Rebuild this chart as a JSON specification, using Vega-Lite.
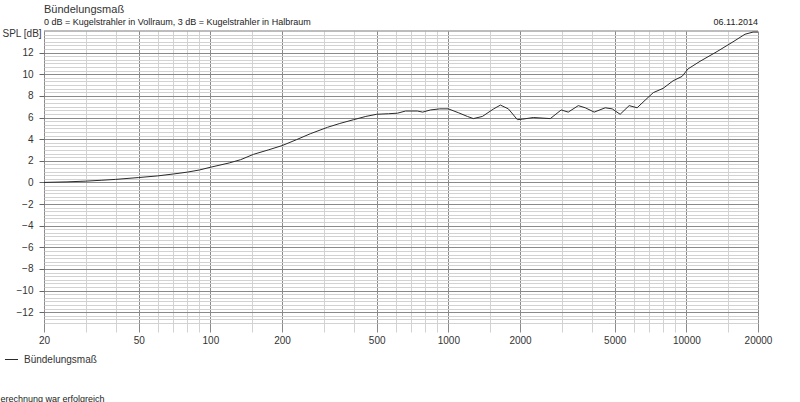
{
  "$schema": "https://vega.github.io/schema/vega-lite/v6.json",
  "autosize": {"type": "none"},
  "width": 714,
  "height": 292,
  "padding": {"left": 44, "top": 31, "right": 42, "bottom": 79},
  "background": "white",
  "config": {"font": "Liberation Sans", "view": {"stroke": null}},
  "title": {
    "text": "Bündelungsmaß",
    "subtitle": "0 dB = Kugelstrahler in Vollraum, 3 dB = Kugelstrahler in Halbraum",
    "anchor": "start",
    "frame": "group",
    "fontSize": 11,
    "fontWeight": "normal",
    "color": "#333333",
    "subtitleFontSize": 9,
    "subtitleColor": "#222222",
    "subtitlePadding": 3,
    "offset": -9
  },
  "data": {
    "values": [
      {"f": 20, "db": 0.0}, {"f": 25, "db": 0.05}, {"f": 30, "db": 0.12}, {"f": 35, "db": 0.2},
      {"f": 40, "db": 0.28}, {"f": 50, "db": 0.45}, {"f": 60, "db": 0.6}, {"f": 70, "db": 0.78},
      {"f": 80, "db": 0.95}, {"f": 90, "db": 1.15}, {"f": 100, "db": 1.4}, {"f": 120, "db": 1.8},
      {"f": 134, "db": 2.1}, {"f": 152, "db": 2.6}, {"f": 175, "db": 3.0}, {"f": 200, "db": 3.4},
      {"f": 230, "db": 3.95}, {"f": 263, "db": 4.5}, {"f": 311, "db": 5.1}, {"f": 350, "db": 5.45},
      {"f": 400, "db": 5.8}, {"f": 450, "db": 6.1}, {"f": 500, "db": 6.3}, {"f": 560, "db": 6.35},
      {"f": 611, "db": 6.4}, {"f": 661, "db": 6.6}, {"f": 741, "db": 6.6}, {"f": 780, "db": 6.5},
      {"f": 841, "db": 6.7}, {"f": 920, "db": 6.8}, {"f": 1000, "db": 6.8}, {"f": 1100, "db": 6.45},
      {"f": 1202, "db": 6.1}, {"f": 1274, "db": 5.9}, {"f": 1390, "db": 6.1}, {"f": 1550, "db": 6.8},
      {"f": 1655, "db": 7.15}, {"f": 1787, "db": 6.8}, {"f": 1950, "db": 5.8}, {"f": 2050, "db": 5.85},
      {"f": 2275, "db": 6.0}, {"f": 2681, "db": 5.9}, {"f": 2980, "db": 6.7}, {"f": 3190, "db": 6.5},
      {"f": 3515, "db": 7.1}, {"f": 3760, "db": 6.9}, {"f": 4100, "db": 6.5}, {"f": 4560, "db": 6.9},
      {"f": 4880, "db": 6.8}, {"f": 5270, "db": 6.3}, {"f": 5750, "db": 7.1}, {"f": 6210, "db": 6.9},
      {"f": 6710, "db": 7.6}, {"f": 7260, "db": 8.3}, {"f": 7990, "db": 8.7}, {"f": 8800, "db": 9.4},
      {"f": 9590, "db": 9.8}, {"f": 10170, "db": 10.5}, {"f": 11420, "db": 11.2}, {"f": 13460, "db": 12.1},
      {"f": 15710, "db": 13.0}, {"f": 17630, "db": 13.7}, {"f": 19060, "db": 13.9}, {"f": 20000, "db": 13.9}
    ]
  },
  "layer": [
    {
      "data": {"values": [{"date": "06.11.2014"}]},
      "mark": {"type": "text", "align": "right", "baseline": "alphabetic", "dy": -6, "fontSize": 9, "color": "#222222"},
      "encoding": {
        "x": {
          "datum": 20000, "type": "quantitative",
          "scale": {"type": "log", "domain": [20, 20000], "nice": false},
          "axis": {
            "orient": "bottom", "values": [30, 40, 60, 70, 80, 90, 150, 300, 400, 600, 700, 800, 900, 1500, 3000, 4000, 6000, 7000, 8000, 9000, 15000],
            "labels": false, "domain": false, "title": null,
            "grid": true, "gridColor": "#d2d2d2", "gridOpacity": 1,
            "ticks": true, "tickColor": "#d2d2d2", "tickSize": 9
          }
        },
        "y": {
          "datum": 14, "type": "quantitative",
          "scale": {"domain": [-13, 14], "nice": false, "zero": false},
          "axis": {
            "orient": "left",
            "values": [-13, -12.667, -12.333, -11.667, -11.333, -11, -10.667, -10.333, -9.667, -9.333, -9, -8.667, -8.333, -7.667, -7.333, -7, -6.667, -6.333, -5.667, -5.333, -5, -4.667, -4.333, -3.667, -3.333, -3, -2.667, -2.333, -1.667, -1.333, -1, -0.667, -0.333, 0.333, 0.667, 1, 1.333, 1.667, 2.333, 2.667, 3, 3.333, 3.667, 4.333, 4.667, 5, 5.333, 5.667, 6.333, 6.667, 7, 7.333, 7.667, 8.333, 8.667, 9, 9.333, 9.667, 10.333, 10.667, 11, 11.333, 11.667, 12.333, 12.667, 13, 13.333, 13.667],
            "labels": false, "ticks": false, "domain": false, "title": null,
            "grid": true, "gridColor": "#d2d2d2", "gridOpacity": 1
          }
        },
        "text": {"field": "date"}
      }
    },
    {
      "data": {"values": [{"top": 14}]},
      "mark": {"type": "rule", "color": "#7a7a7a"},
      "encoding": {
        "y": {"field": "top", "type": "quantitative", "axis": null}
      }
    },
    {
      "mark": {"type": "line", "strokeWidth": 1},
      "encoding": {
        "x": {
          "field": "f", "type": "quantitative",
          "scale": {"type": "log", "domain": [20, 20000], "nice": false},
          "axis": {
            "orient": "bottom", "values": [20, 50, 100, 200, 500, 1000, 2000, 5000, 10000, 20000],
            "format": "d", "domain": false,
            "grid": true, "gridColor": "#8a8a8a", "gridOpacity": 1,
            "tickColor": "#8a8a8a", "tickSize": 9,
            "labelFontSize": 10, "labelColor": "#333333", "labelPadding": 3, "labelFlush": false,
            "title": "erechnung war erfolgreich",
            "titleX": -44, "titleY": 78, "titleAlign": "left", "titleAnchor": null,
            "titleBaseline": "alphabetic", "titleFontSize": 9, "titleFontWeight": "normal", "titleColor": "#222222"
          }
        },
        "y": {
          "field": "db", "type": "quantitative",
          "scale": {"domain": [-13, 14], "nice": false, "zero": false},
          "axis": {
            "orient": "left", "values": [-12, -10, -8, -6, -4, -2, 0, 2, 4, 6, 8, 10, 12],
            "domain": false,
            "grid": true, "gridColor": "#8a8a8a", "gridOpacity": 1,
            "tickColor": "#666666", "tickSize": 5,
            "labelFontSize": 10, "labelColor": "#333333", "labelPadding": 6,
            "title": "SPL [dB]", "titleAngle": 0, "titleX": -42, "titleY": 2,
            "titleAlign": "left", "titleBaseline": "middle", "titleAnchor": null,
            "titleFontSize": 10, "titleFontWeight": "normal", "titleColor": "#333333"
          }
        },
        "color": {
          "datum": "Bündelungsmaß",
          "scale": {"range": ["#2a2a2a"]},
          "legend": {
            "orient": "none", "legendX": -40, "legendY": 321, "title": null,
            "symbolType": "stroke", "symbolSize": 170, "symbolStrokeWidth": 1,
            "labelFontSize": 10, "labelColor": "#333333", "labelOffset": 5
          }
        }
      }
    }
  ],
  "resolve": {"axis": {"x": "independent", "y": "independent"}}
}
